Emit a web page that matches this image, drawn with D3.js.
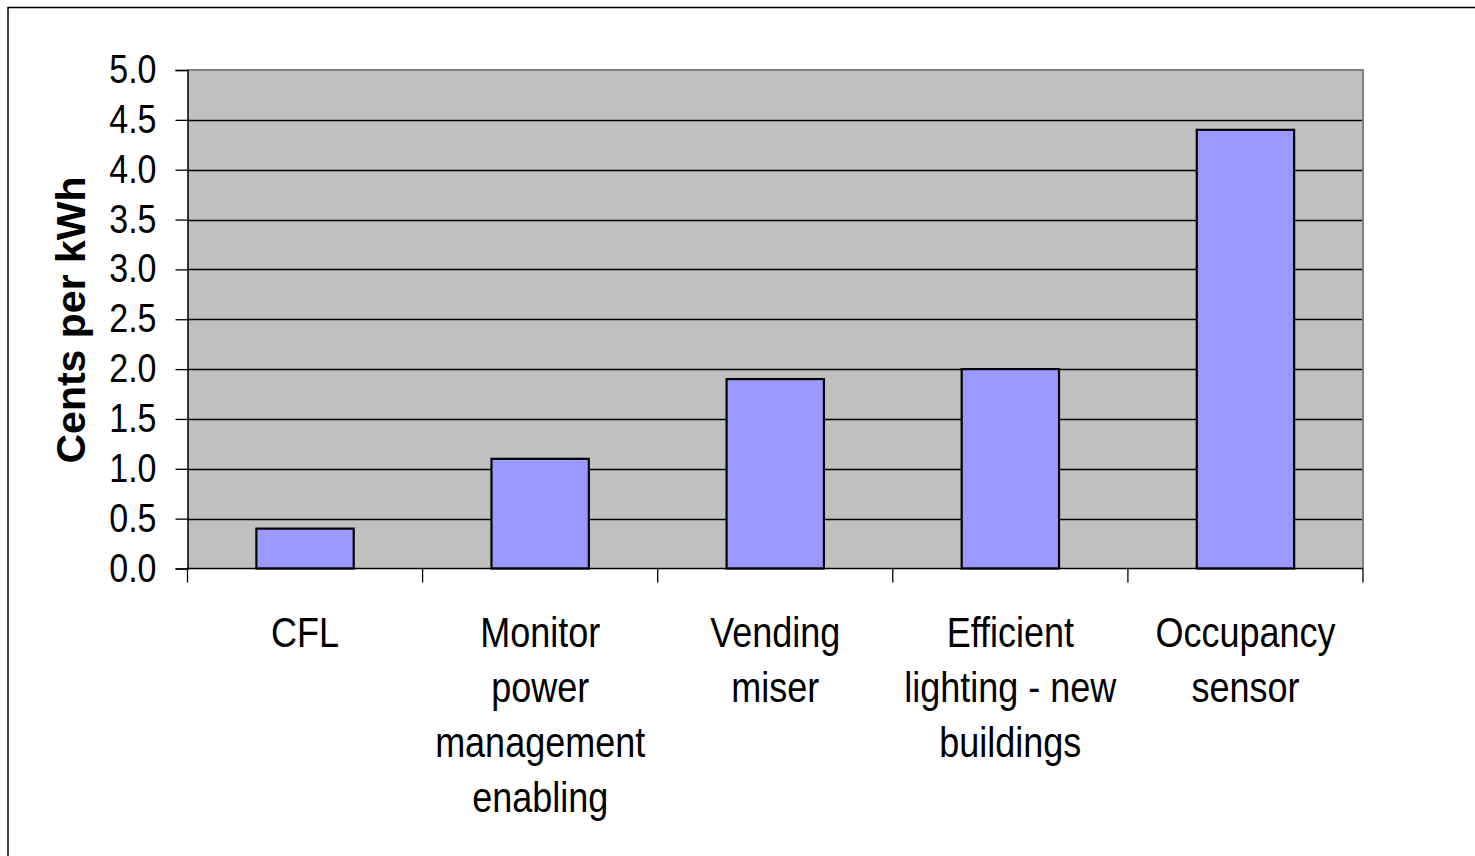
<!DOCTYPE html>
<html>
<head>
<meta charset="utf-8">
<script src="https://cdn.jsdelivr.net/npm/d3@7"></script>
<style>
  html, body { margin: 0; padding: 0; background: #fff; }
  svg { display: block; }
  text { font-family: "Liberation Sans", Arial, sans-serif; fill: #000; }
</style>
</head>
<body>
<svg id="chart" width="1475" height="856"></svg>
<script>
// Daten
var categories = ["CFL", "Monitor power management enabling", "Vending miser",
                  "Efficient lighting - new buildings", "Occupancy sensor"];
var labelLines = [["CFL"], ["Monitor", "power", "management", "enabling"], ["Vending", "miser"],
                  ["Efficient", "lighting - new", "buildings"], ["Occupancy", "sensor"]];
var centsPerKWh = [0.4, 1.1, 1.9, 2.0, 4.4];
var yTicks = [0, 0.5, 1, 1.5, 2, 2.5, 3, 3.5, 4, 4.5, 5];
var yTitle = "Cents per kWh";

var svg = d3.select("#chart");
var plot = { left: 187.5, right: 1363, top: 70, bottom: 568.5 };
var stretch = 1.17; // Bildvorlage ist vertikal gestreckt

// Rahmen um das ganze Diagramm
svg.append("rect")
  .attr("x", 8).attr("y", 7.5)
  .attr("width", 1500).attr("height", 900)
  .attr("fill", "#fff")
  .attr("stroke", "#000")
  .attr("stroke-width", 1.5);

var x = d3.scaleBand().domain(categories).range([plot.left, plot.right]).padding(0);
var y = d3.scaleLinear().domain([0, 5]).range([plot.bottom, plot.top]);

// Plotfläche
svg.append("rect")
  .attr("x", plot.left).attr("y", plot.top)
  .attr("width", plot.right - plot.left).attr("height", plot.bottom - plot.top)
  .attr("fill", "#c0c0c0");

// Gitternetzlinien
svg.append("g").selectAll("line")
  .data(yTicks.filter(function(d){ return d > 0 && d < 5; }))
  .join("line")
  .attr("x1", plot.left).attr("x2", plot.right)
  .attr("y1", function(d){ return Math.round(y(d)) + 0.5; })
  .attr("y2", function(d){ return Math.round(y(d)) + 0.5; })
  .attr("stroke", "#000").attr("stroke-width", 1.3);

// Rand oben/rechts
svg.append("path")
  .attr("d", "M" + plot.left + "," + plot.top + "H" + plot.right + "V" + plot.bottom)
  .attr("fill", "none").attr("stroke", "#808080").attr("stroke-width", 2);

// Balken
var barW = x.bandwidth() * 0.414;
svg.append("g").selectAll("rect")
  .data(centsPerKWh)
  .join("rect")
  .attr("x", function(d, i){ return x(categories[i]) + (x.bandwidth() - barW) / 2; })
  .attr("y", function(d){ return y(d); })
  .attr("width", barW)
  .attr("height", function(d){ return y(0) - y(d); })
  .attr("fill", "#9999ff")
  .attr("stroke", "#000")
  .attr("stroke-width", 2.2);

// y-Achse
var yAxis = svg.append("g")
  .attr("transform", "translate(" + plot.left + ",0)")
  .call(d3.axisLeft(y).tickValues(yTicks).tickSize(12).tickPadding(0).tickFormat(d3.format(".1f")));
yAxis.select(".domain").attr("stroke", "#000").attr("stroke-width", 1.5);
yAxis.selectAll(".tick line").attr("stroke", "#000").attr("stroke-width", 1.3);
yAxis.selectAll(".tick text")
  .attr("x", null).attr("dy", null)
  .attr("font-size", 34)
  .attr("font-family", "Liberation Sans, Arial, sans-serif")
  .attr("text-anchor", "end")
  .attr("transform", "translate(-31,12.5) scale(1," + stretch + ")");

// x-Achse
svg.append("line")
  .attr("x1", plot.left).attr("x2", plot.right)
  .attr("y1", plot.bottom).attr("y2", plot.bottom)
  .attr("stroke", "#000").attr("stroke-width", 1.5);
var bounds = categories.map(function(c){ return x(c); }).concat([plot.right]);
svg.append("g").selectAll("line")
  .data(bounds)
  .join("line")
  .attr("x1", function(d){ return d; }).attr("x2", function(d){ return d; })
  .attr("y1", plot.bottom).attr("y2", plot.bottom + 14)
  .attr("stroke", "#000").attr("stroke-width", 1.3);

// Kategorienbeschriftung
var lab = svg.append("g").selectAll("g")
  .data(labelLines)
  .join("g")
  .attr("transform", function(d, i){
    return "translate(" + (x(categories[i]) + x.bandwidth() / 2) + ",647)";
  });
lab.selectAll("text")
  .data(function(d){ return d; })
  .join("text")
  .attr("text-anchor", "middle")
  .attr("font-size", 36)
  .attr("transform", function(d, j){ return "translate(0," + (j * 55) + ") scale(1," + stretch + ")"; })
  .text(function(d){ return d; });

// Achsentitel
svg.append("text")
  .attr("transform", "translate(85,320) rotate(-90)")
  .attr("text-anchor", "middle")
  .attr("font-size", 41)
  .attr("font-weight", "bold")
  .text(yTitle);
</script>
</body>
</html>
